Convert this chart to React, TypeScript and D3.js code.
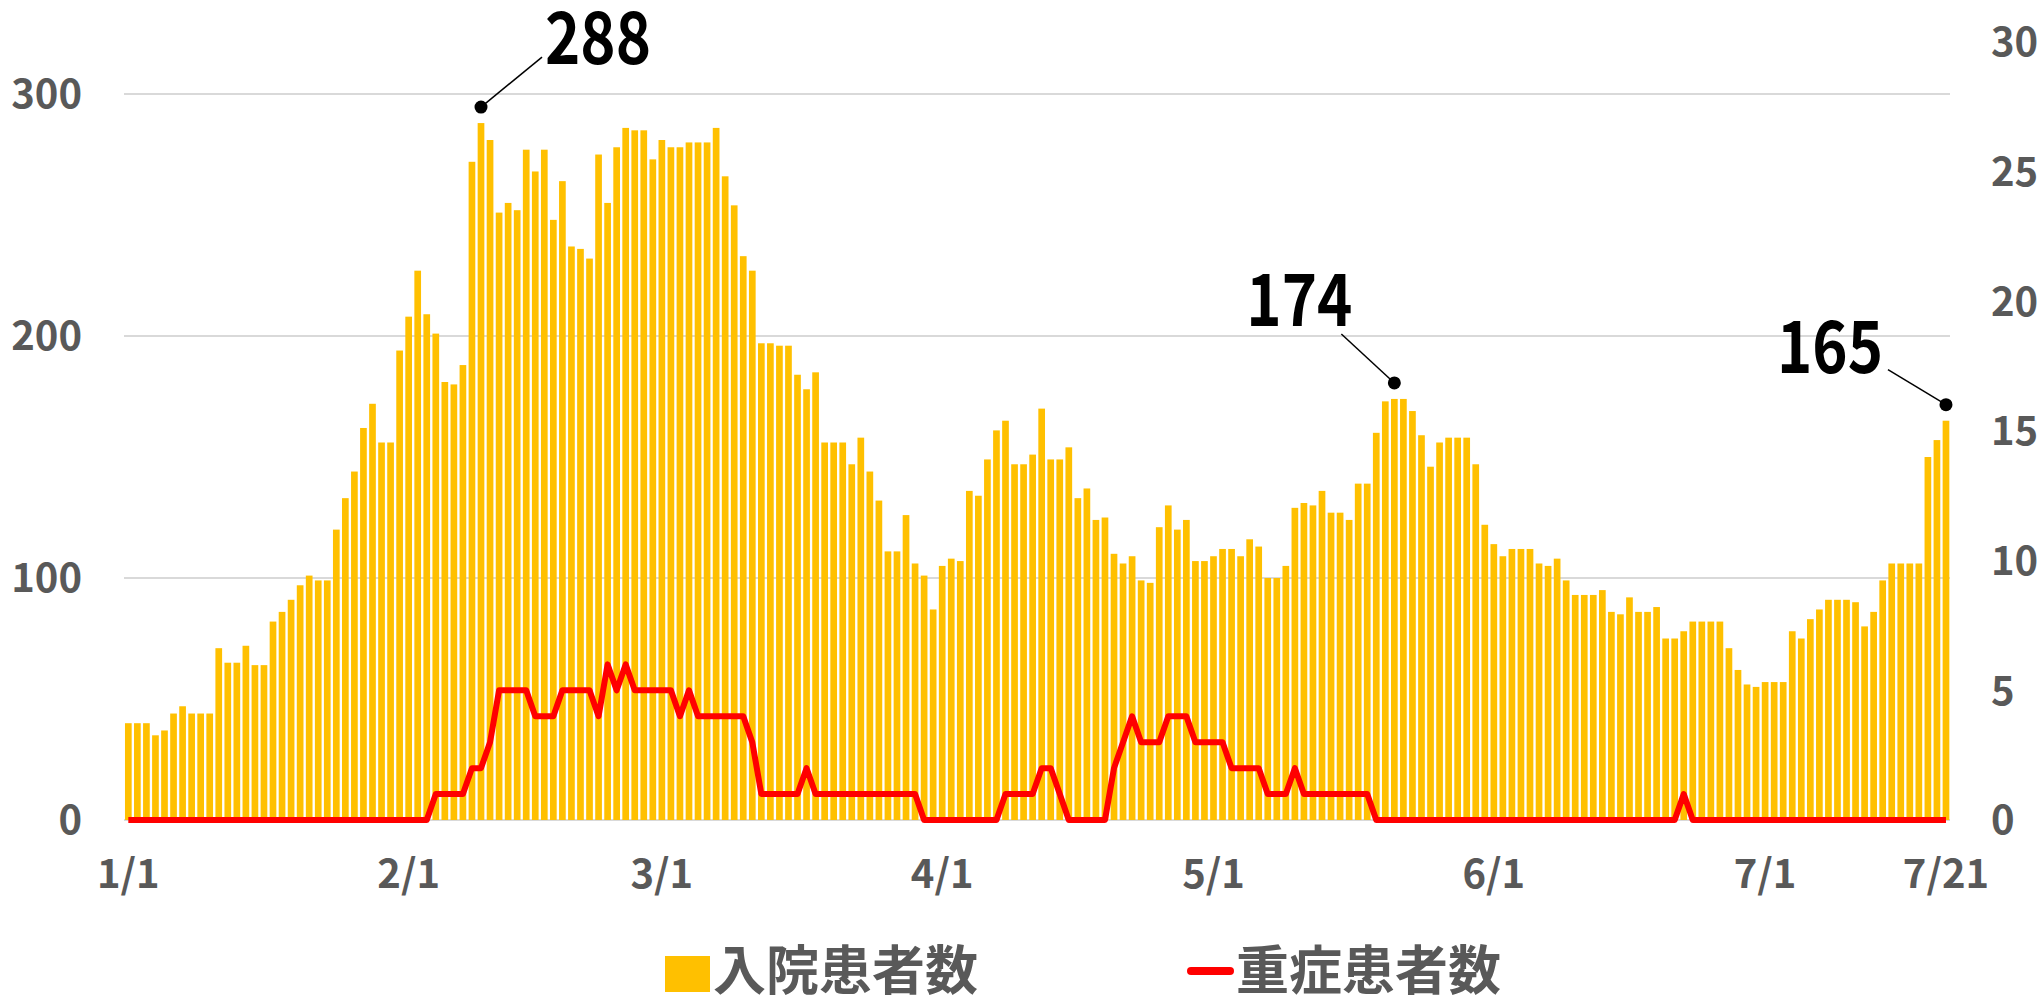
import * as d3 from "d3";
import { useEffect, useRef } from "react";

// daily values, 1/1 .. 7/21
const startDate = new Date(2021, 0, 1);
const endDate = new Date(2021, 6, 22);
const days = d3.timeDay.range(startDate, endDate).map((d) => `${d.getMonth() + 1}/${d.getDate()}`);

// 入院患者数
const inpatients = [
    40, 40, 40, 35, 37, 44, 47, 44, 44, 44,
    71, 65, 65, 72, 64, 64, 82, 86, 91, 97,
    101, 99, 99, 120, 133, 144, 162, 172, 156, 156,
    194, 208, 227, 209, 201, 181, 180, 188, 272, 288,
    281, 251, 255, 252, 277, 268, 277, 248, 264, 237,
    236, 232, 275, 255, 278, 286, 285, 285, 273, 281,
    278, 278, 280, 280, 280, 286, 266, 254, 233, 227,
    197, 197, 196, 196, 184, 178, 185, 156, 156, 156,
    147, 158, 144, 132, 111, 111, 126, 106, 101, 87,
    105, 108, 107, 136, 134, 149, 161, 165, 147, 147,
    151, 170, 149, 149, 154, 133, 137, 124, 125, 110,
    106, 109, 99, 98, 121, 130, 120, 124, 107, 107,
    109, 112, 112, 109, 116, 113, 100, 100, 105, 129,
    131, 130, 136, 127, 127, 124, 139, 139, 160, 173,
    174, 174, 169, 159, 146, 156, 158, 158, 158, 147,
    122, 114, 109, 112, 112, 112, 106, 105, 108, 99,
    93, 93, 93, 95, 86, 85, 92, 86, 86, 88,
    75, 75, 78, 82, 82, 82, 82, 71, 62, 56,
    55, 57, 57, 57, 78, 75, 83, 87, 91, 91,
    91, 90, 80, 86, 99, 106, 106, 106, 106, 150,
    157, 165,
];

// 重症患者数
const severe = [
    0, 0, 0, 0, 0, 0, 0, 0, 0, 0,
    0, 0, 0, 0, 0, 0, 0, 0, 0, 0,
    0, 0, 0, 0, 0, 0, 0, 0, 0, 0,
    0, 0, 0, 0, 1, 1, 1, 1, 2, 2,
    3, 5, 5, 5, 5, 4, 4, 4, 5, 5,
    5, 5, 4, 6, 5, 6, 5, 5, 5, 5,
    5, 4, 5, 4, 4, 4, 4, 4, 4, 3,
    1, 1, 1, 1, 1, 2, 1, 1, 1, 1,
    1, 1, 1, 1, 1, 1, 1, 1, 0, 0,
    0, 0, 0, 0, 0, 0, 0, 1, 1, 1,
    1, 2, 2, 1, 0, 0, 0, 0, 0, 2,
    3, 4, 3, 3, 3, 4, 4, 4, 3, 3,
    3, 3, 2, 2, 2, 2, 1, 1, 1, 2,
    1, 1, 1, 1, 1, 1, 1, 1, 0, 0,
    0, 0, 0, 0, 0, 0, 0, 0, 0, 0,
    0, 0, 0, 0, 0, 0, 0, 0, 0, 0,
    0, 0, 0, 0, 0, 0, 0, 0, 0, 0,
    0, 0, 1, 0, 0, 0, 0, 0, 0, 0,
    0, 0, 0, 0, 0, 0, 0, 0, 0, 0,
    0, 0, 0, 0, 0, 0, 0, 0, 0, 0,
    0, 0,
];

const xTickLabels = ["1/1", "2/1", "3/1", "4/1", "5/1", "6/1", "7/1", "7/21"];
const leftTicks = [0, 100, 200, 300];
const rightTicks = [0, 5, 10, 15, 20, 25, 30];
const seriesNames = ["入院患者数", "重症患者数"];
// peak labels
const callouts = [
    { day: "2/9", value: 288 },
    { day: "5/21", value: 174 },
    { day: "7/21", value: 165 },
];

const FONT = "'Noto Sans CJK JP', 'Noto Sans', sans-serif";
const GREY = "#595959";

export default function App() {
    const ref = useRef(null);

    useEffect(() => {
        const svg = d3.select(ref.current);
        svg.selectAll("*").remove();

        const width = 2042;
        const height = 997;
        const top = 42;
        const bottom = 820;

        svg.attr("width", width).attr("height", height);
        svg.append("rect").attr("width", width).attr("height", height).attr("fill", "#fff");

        const x = d3
            .scaleBand()
            .domain(days)
            .range([123.8, 1950.5])
            .paddingInner(0.26)
            .paddingOuter(0.13);
        const cx = (d) => x(d) + x.bandwidth() / 2;

        const y = d3.scaleLinear().domain([0, 321.5]).range([bottom, top]);
        const y2 = d3.scaleLinear().domain([0, 30]).range([bottom, top]);

        // gridlines
        svg
            .append("g")
            .selectAll("line")
            .data(leftTicks)
            .enter()
            .append("line")
            .attr("x1", 124)
            .attr("x2", 1950)
            .attr("y1", (d) => y(d))
            .attr("y2", (d) => y(d))
            .attr("stroke", "#d9d9d9")
            .attr("stroke-width", 2);

        // bars
        svg
            .append("g")
            .selectAll("rect")
            .data(inpatients)
            .enter()
            .append("rect")
            .attr("x", (d, i) => x(days[i]))
            .attr("y", (d) => y(d))
            .attr("width", x.bandwidth())
            .attr("height", (d) => bottom - y(d))
            .attr("fill", "#FFC000");

        // severe line
        const line = d3
            .line()
            .x((d, i) => cx(days[i]))
            .y((d) => y2(d));
        svg
            .append("path")
            .datum(severe)
            .attr("d", line)
            .attr("fill", "none")
            .attr("stroke", "#FF0000")
            .attr("stroke-width", 6)
            .attr("stroke-linejoin", "round");

        // left axis labels
        svg
            .append("g")
            .selectAll("text")
            .data(leftTicks)
            .enter()
            .append("text")
            .attr("x", 82)
            .attr("y", (d) => y(d))
            .attr("dy", "0.36em")
            .attr("text-anchor", "end")
            .style("font-family", FONT)
            .style("font-size", "40px")
            .style("font-weight", "bold")
            .attr("fill", GREY)
            .text((d) => d);

        // right axis labels
        svg
            .append("g")
            .selectAll("text")
            .data(rightTicks)
            .enter()
            .append("text")
            .attr("x", 1991)
            .attr("y", (d) => y2(d))
            .attr("dy", "0.36em")
            .attr("text-anchor", "start")
            .style("font-family", FONT)
            .style("font-size", "40px")
            .style("font-weight", "bold")
            .attr("fill", GREY)
            .text((d) => d);

        // x labels
        svg
            .append("g")
            .selectAll("text")
            .data(xTickLabels)
            .enter()
            .append("text")
            .attr("x", (d) => cx(d))
            .attr("y", 874)
            .attr("dy", "0.36em")
            .attr("text-anchor", "middle")
            .style("font-family", FONT)
            .style("font-size", "40px")
            .style("font-weight", "bold")
            .attr("fill", GREY)
            .text((d) => d);

        // callouts (offsets relative to the dot)
        const offsets = [
            { tx: 170, ty: -43, lx: 61, ly: -50 },
            { tx: -42, ty: -57, lx: -53, ly: -49 },
            { tx: -63, ty: -32, lx: -58, ly: -35 },
        ];
        callouts.forEach((c, i) => {
            const o = offsets[i];
            const dx = cx(c.day);
            const dy = y(c.value) - 16;
            svg.append("line")
                .attr("x1", dx)
                .attr("y1", dy)
                .attr("x2", dx + o.lx)
                .attr("y2", dy + o.ly)
                .attr("stroke", "#000")
                .attr("stroke-width", 1.5);
            svg.append("circle").attr("cx", dx).attr("cy", dy).attr("r", 6.5).attr("fill", "#000");
            svg.append("text")
                .attr("x", dx + o.tx)
                .attr("y", dy + o.ty)
                .attr("text-anchor", "end")
                .attr("textLength", 106)
                .attr("lengthAdjust", "spacingAndGlyphs")
                .style("font-family", FONT)
                .style("font-size", "72px")
                .style("font-weight", "bold")
                .attr("fill", "#000")
                .text(c.value);
        });

        // legend
        const legend = svg.append("g");
        legend.append("rect").attr("x", 665).attr("y", 956).attr("width", 45).attr("height", 36).attr("fill", "#FFC000");
        legend.append("line")
            .attr("x1", 1191)
            .attr("x2", 1230)
            .attr("y1", 971)
            .attr("y2", 971)
            .attr("stroke", "#FF0000")
            .attr("stroke-width", 8)
            .attr("stroke-linecap", "round");
        legend
            .selectAll("text")
            .data(seriesNames)
            .enter()
            .append("text")
            .attr("x", (d, i) => (i === 0 ? 713 : 1236))
            .attr("y", 971)
            .attr("dy", "0.36em")
            .style("font-family", FONT)
            .style("font-size", "53px")
            .style("font-weight", "bold")
            .attr("fill", GREY)
            .text((d) => d);
    }, []);

    return (
        <svg
            ref={ref}
            style={{ position: "absolute", left: 0, top: 0, display: "block" }}
        ></svg>
    );
}
